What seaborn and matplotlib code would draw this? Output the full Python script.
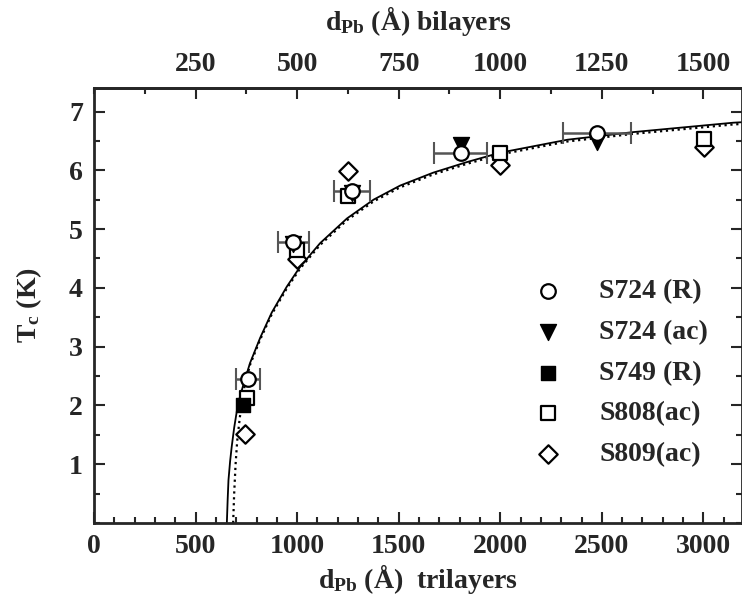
import numpy as np
import pandas as pd
import matplotlib
matplotlib.use('Agg')
import matplotlib.pyplot as plt
from matplotlib.ticker import MultipleLocator, FixedLocator
import seaborn as sns

# datos (d en Angstrom, trilayers; Tc en K)
d_s724_r = [759, 982, 1270, 1805, 2478]
tc_s724_r = [2.45, 4.78, 5.65, 6.30, 6.63]
xerr_s724_r = [60, 75, 90, 130, 167]

d_s724_ac = [982, 1270, 1805, 2478]
tc_s724_ac = [4.74, 5.62, 6.43, 6.48]

d_s749_r = [733]
tc_s749_r = [2.0]

d_s808_ac = [753, 1000, 1251, 2000, 3005]
tc_s808_ac = [2.12, 4.64, 5.56, 6.29, 6.54]

d_s809_ac = [743, 1000, 1251, 2000, 3005]
tc_s809_ac = [1.51, 4.49, 5.99, 6.09, 6.39]

# curvas teoricas (leidas punto a punto)
d_fit = [654, 658, 662, 670, 678, 690, 703, 718, 736, 768, 818, 875, 949, 1015, 1113,
         1245, 1376, 1507, 1670, 1836, 2000, 2330, 2655, 3148, 3200]
tc_fit = [0.0, 0.4, 0.73, 1.05, 1.30, 1.62, 1.90, 2.14, 2.36, 2.72, 3.15, 3.58, 4.02,
          4.36, 4.76, 5.18, 5.50, 5.74, 5.96, 6.14, 6.30, 6.52, 6.65, 6.81, 6.82]
d_fit2 = [685, 690, 697, 705, 718, 738, 768, 818, 875, 949, 1015, 1113,
          1245, 1376, 1507, 1670, 1836, 2000, 2330, 2655, 3148, 3200]
tc_fit2 = [0.0, 0.5, 1.0, 1.4, 1.8, 2.28, 2.69, 3.12, 3.55, 3.99, 4.33, 4.73,
           5.15, 5.47, 5.71, 5.93, 6.11, 6.27, 6.49, 6.62, 6.78, 6.79]

sns.set_style("ticks")
plt.rcParams['font.family'] = ['Liberation Serif', 'DejaVu Serif']
plt.rcParams['font.weight'] = 'bold'
plt.rcParams['mathtext.fontset'] = 'custom'
plt.rcParams['mathtext.rm'] = 'Liberation Serif:bold'
plt.rcParams['mathtext.bf'] = 'Liberation Serif:bold'
plt.rcParams['mathtext.it'] = 'Liberation Serif:bold'

fig = plt.figure(figsize=(7.42, 5.98), dpi=100)
ax = fig.add_axes([94 / 742, 1 - 523 / 598, 1 - 94 / 742, (523 - 88) / 598])

fs = 20

# curvas
sns.lineplot(x=d_fit, y=tc_fit, ax=ax, color='black', lw=1.3, sort=False,
             estimator=None)
sns.lineplot(x=d_fit2, y=tc_fit2, ax=ax, color='black', lw=1.6, ls=':', sort=False,
             estimator=None)

# barras de error
ax.errorbar(d_s724_r, tc_s724_r, xerr=xerr_s724_r, fmt='none', ecolor='#555555',
            elinewidth=1.8, capsize=8, capthick=1.5, zorder=3)

ms = 110
sns.scatterplot(x=d_s809_ac, y=tc_s809_ac, ax=ax, marker='D', s=ms * 0.8, facecolor='white',
                edgecolor='black', linewidth=1.6, label='S809(ac)', zorder=4)
sns.scatterplot(x=d_s808_ac, y=tc_s808_ac, ax=ax, marker='s', s=ms, facecolor='white',
                edgecolor='black', linewidth=1.6, label='S808(ac)', zorder=5)
sns.scatterplot(x=d_s724_ac, y=tc_s724_ac, ax=ax, marker='v', s=ms * 1.2, color='black',
                edgecolor='black', linewidth=1, label='S724 (ac)', zorder=6)
sns.scatterplot(x=d_s749_r, y=tc_s749_r, ax=ax, marker='s', s=ms, color='black',
                edgecolor='black', linewidth=1, label='S749 (R)', zorder=6)
sns.scatterplot(x=d_s724_r, y=tc_s724_r, ax=ax, marker='o', s=ms, facecolor='white',
                edgecolor='black', linewidth=1.6, label='S724 (R)', zorder=7)

ax.set_xlim(0, 3190)
ax.set_ylim(0, 7.4)

ax.xaxis.set_major_locator(MultipleLocator(500))
ax.xaxis.set_minor_locator(MultipleLocator(100))
ax.yaxis.set_major_locator(FixedLocator([1, 2, 3, 4, 5, 6, 7]))
ax.yaxis.set_minor_locator(MultipleLocator(0.5))
ax.tick_params(which='both', direction='in', top=False, right=True, width=1.5,
               labelsize=fs, pad=8)
ax.tick_params(which='major', length=8)
ax.tick_params(which='minor', length=4)
for lab in ax.get_xticklabels() + ax.get_yticklabels():
    lab.set_fontweight('bold')
for sp in ax.spines.values():
    sp.set_linewidth(2)

ax.set_xlabel(r'$\mathbf{d_{Pb}}$ (Å)  trilayers', fontsize=fs, fontweight='bold', labelpad=2)
ax.set_ylabel(r'$\mathbf{T_{c}}$ (K)', fontsize=fs, fontweight='bold', labelpad=18)

# eje superior: bilayers
sec = ax.secondary_xaxis('top', functions=(lambda x: x / 2, lambda x: x * 2))
sec.xaxis.set_major_locator(FixedLocator([250, 500, 750, 1000, 1250, 1500]))
sec.xaxis.set_minor_locator(MultipleLocator(125))
sec.tick_params(which='both', direction='in', width=1.5, labelsize=fs, pad=8)
sec.tick_params(which='major', length=8)
sec.tick_params(which='minor', length=4)
for lab in sec.get_xticklabels():
    lab.set_fontweight('bold')
sec.spines['top'].set_linewidth(2)
sec.set_xlabel(r'$\mathbf{d_{Pb}}$ (Å) bilayers', fontsize=fs, fontweight='bold', labelpad=16)

# leyenda en el orden original
handles, labels = ax.get_legend_handles_labels()
orden = ['S724 (R)', 'S724 (ac)', 'S749 (R)', 'S808(ac)', 'S809(ac)']
hd = dict(zip(labels, handles))
ax.legend([hd[k] for k in orden], orden, loc='upper left',
          bbox_to_anchor=(534 / 742, 1 - 279 / 598), bbox_transform=fig.transFigure,
          frameon=False, prop={'weight': 'bold', 'size': fs},
          borderpad=0, borderaxespad=0, handlelength=1.0,
          handletextpad=1.35, labelspacing=0.55, markerscale=1.0)

fig.savefig('out.png', dpi=100)
